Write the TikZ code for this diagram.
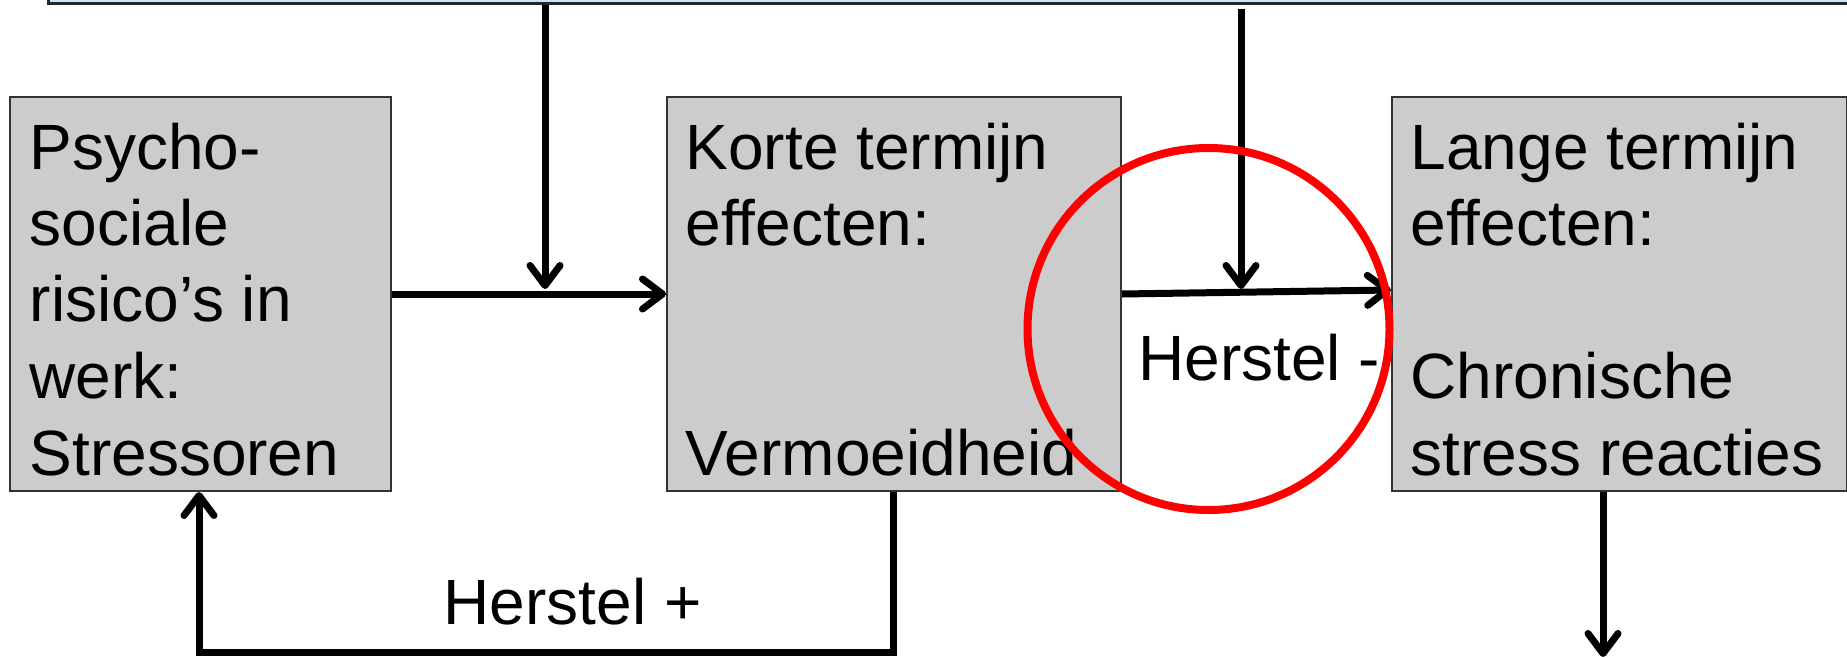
\documentclass[tikz,border=0pt]{standalone}
\usepackage{fontspec}
\setmainfont{Liberation Sans}
\usetikzlibrary{arrows.meta}
\definecolor{boxgray}{RGB}{204,204,204}
\definecolor{topblue}{RGB}{205,228,246}
\newcommand{\bigfont}{\fontsize{64}{76.5}\selectfont}
\begin{document}
\begin{tikzpicture}[x=1pt,y=-1pt,
  box/.style={draw=black!80, line width=2pt, fill=boxgray, rectangle, anchor=north west, inner sep=0pt},
  txt/.style={anchor=base west, inner sep=0pt, font=\bigfont},
  conn/.style={line width=7pt, -{Straight Barb[length=20pt,width=30pt,round]}},
  ring/.style={draw=red, line width=8pt}]
\useasboundingbox (0,0) rectangle (1847,658);
\clip (0,0) rectangle (1847,658);
\fill[white] (0,0) rectangle (1847,658);
% top box (cut off by the page)
\node[draw=black!85, line width=3pt, fill=topblue, minimum width=1900pt, minimum height=80pt, anchor=south west, inner sep=0pt] (top) at (47,5) {};
% boxes
\node[box, minimum width=381pt, minimum height=394pt] (left) at (9,96) {};
\node[box, minimum width=454pt, minimum height=394pt] (mid) at (666,96) {};
\node[box, minimum width=455pt, minimum height=394pt] (right) at (1391,96) {};
% box texts
\node[txt] (lefttxt) at (29.5,169) {\parbox[t]{360pt}{\raggedright\bigfont Psycho-\\sociale\\risico’s in\\werk:\\Stressoren}};
\node[txt] (midtxt) at (685.5,169) {\parbox[t]{440pt}{\raggedright\bigfont Korte termijn\\effecten:\\\mbox{}\\\mbox{}\\Vermoeidheid}};
\node[txt] (righttxt) at (1410.5,169) {\parbox[t]{440pt}{\raggedright\bigfont Lange termijn\\effecten:\\\mbox{}\\Chronische\\stress reacties}};
% labels
\node[txt] (hmin) at (1138,380) {Herstel -};
\node[txt] (hplus) at (443.5,624) {Herstel +};
% connectors
\coordinate (j1) at (545,289);
\coordinate (j2) at (1241,289);
\coordinate (d1) at (1603,657);
\coordinate (l1) at (893,652);
\coordinate (l2) at (199,652);
\draw[conn] (top.south -| j1) -- (j1);
\draw[conn] (left.east) -- (mid.west);
\draw[conn] ([yshift=-4pt]top.south -| j2) -- (j2);
\draw[conn] (mid.east) -- ([yshift=4pt]right.west);
\draw[conn] (right.south -| d1) -- (d1);
\draw[conn] (mid.south -| l1) -- (l1) -- (l2) -- (left.south -| l2);
% red ring
\node[ring, circle, minimum size=362pt, inner sep=0pt] (circ) at (1208.5,329) {};
\end{tikzpicture}
\end{document}
